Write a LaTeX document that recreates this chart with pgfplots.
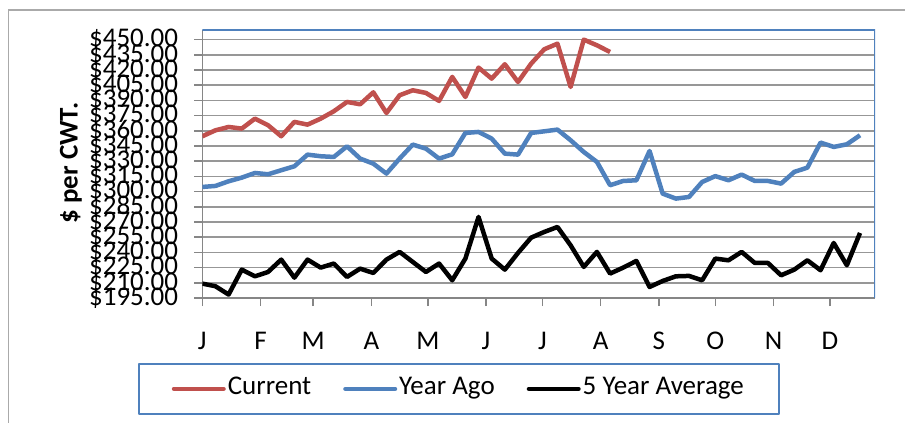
\documentclass[border=0pt]{standalone}
\usepackage{fontspec}
\setmainfont{Carlito}
\usepackage{pgfplots}
\pgfplotsset{compat=1.18}
\definecolor{cur}{HTML}{C0504D}
\definecolor{yago}{HTML}{4F81BD}
\definecolor{framec}{HTML}{4F81BD}
\definecolor{gridc}{HTML}{979797}
\definecolor{axc}{HTML}{868686}
\begin{document}
\begin{tikzpicture}[x=1pt,y=1pt]
\path[use as bounding box] (0,0) rectangle (905,423);
\draw[axc!70, line width=1.2pt] (8.3,0) -- (8.3,413) -- (905,413);
\node[rotate=90, font=\bfseries\fontsize{27}{31}\selectfont] at (71,260) {\$ per CWT.};
\begin{axis}[
  at={(202.3pt,125pt)}, anchor=south west,
  width=672.7pt, height=268pt, scale only axis,
  xmin=0, xmax=51.14, ymin=195, ymax=459.5,
  axis x line*=bottom, axis y line*=left,
  axis line style={axc, line width=1.5pt, -},
  xtick={0,4.4286,8.4286,12.857,17.143,21.571,25.857,30.286,34.714,39,43.429,47.714},
  xticklabels={J,F,M,A,M,J,J,A,S,O,N,D},
  ytick={195,210,...,450},
  yticklabels={\$195.00,\$210.00,\$225.00,\$240.00,\$255.00,\$270.00,\$285.00,\$300.00,\$315.00,\$330.00,\$345.00,\$360.00,\$375.00,\$390.00,\$405.00,\$420.00,\$435.00,\$450.00},
  tick style={axc, line width=1.5pt},
  tick align=outside,
  major tick length=8pt,
  ymajorgrids, grid style={gridc, line width=1.7pt},
  font=\fontsize{27}{31}\selectfont,
  xticklabel style={anchor=base, yshift=-43pt},
  yticklabel style={anchor=east, inner sep=0pt, xshift=-16pt},
  legend columns=3,
  legend style={at={(0.3813,-0.339)}, anchor=center, draw=framec, line width=1.5pt,
    inner xsep=33pt, inner ysep=11pt,
    nodes={inner sep=2pt, text height=18pt, text depth=6pt},
    /tikz/every even column/.append style={column sep=30pt},
    font=\fontsize{27}{31}\selectfont},
  legend image code/.code={\draw[#1, line cap=round] (2.25pt,0pt) -- (51.75pt,0pt);},
  line join=round,
]
\draw[framec, line width=1.5pt] (rel axis cs:0,1) -- (rel axis cs:1,1) -- (rel axis cs:1,0);
\addplot[cur, line width=4.5pt] coordinates {
(0,354.6) (1,360.5) (2,363.8) (3,362.2) (4,372.0) (5,365.5) (6,354.6) (7,368.8) (8,366.1) (9,372.0)
(10,379.3) (11,388.5) (12,386.2) (13,398.0) (14,377.6) (15,395.1) (16,400.0) (17,397.4) (18,389.5) (19,413.2)
(20,393.4) (21,422.4) (22,411.5) (23,425.7) (24,408.2) (25,426.3) (26,440.5) (27,446.0) (28,403.3) (29,450.0)
(30,444.4) (31,437.8)};
\addlegendentry{Current}
\addplot[yago, line width=4.5pt] coordinates {
(0,304.6) (1,305.6) (2,310.2) (3,313.8) (4,318.4) (5,317.1) (6,321.1) (7,325.0) (8,336.5) (9,334.9)
(10,334.2) (11,344.7) (12,332.6) (13,327.6) (14,317.8) (15,332.6) (16,346.4) (17,342.4) (18,332.6) (19,336.8)
(20,357.9) (21,358.9) (22,352.3) (23,337.5) (24,336.5) (25,357.9) (26,359.5) (27,361.2) (28,350.7) (29,339.1)
(30,329.3) (31,306.3) (32,310.5) (33,311.2) (34,340.1) (35,298.0) (36,293.1) (37,294.7) (38,309.5) (39,315.3)
(40,311.2) (41,316.8) (42,310.5) (43,310.5) (44,307.9) (45,319.4) (46,323.7) (47,348.4) (48,344.1) (49,346.7)
(50,355.6)};
\addlegendentry{Year Ago}
\addplot[black, line width=4.5pt] coordinates {
(0,209.2) (1,206.6) (2,198.4) (3,223.0) (4,216.4) (5,220.7) (6,232.9) (7,215.1) (8,232.9) (9,225.0)
(10,229.0) (11,215.8) (12,224.0) (13,219.7) (14,232.9) (15,240.5) (16,230.6) (17,220.7) (18,229.0) (19,212.5)
(20,233.9) (21,275.0) (22,233.9) (23,223.0) (24,239.5) (25,254.6) (26,260.2) (27,265.1) (28,247.0) (29,225.7)
(30,240.5) (31,219.1) (32,225.0) (33,231.6) (34,205.9) (35,211.8) (36,216.4) (37,216.8) (38,212.5) (39,233.9)
(40,232.2) (41,240.5) (42,229.6) (43,229.6) (44,217.4) (45,223.0) (46,232.2) (47,222.4) (48,249.3) (49,227.3)
(50,259.2)};
\addlegendentry{5 Year Average}
\end{axis}
\end{tikzpicture}
\end{document}
